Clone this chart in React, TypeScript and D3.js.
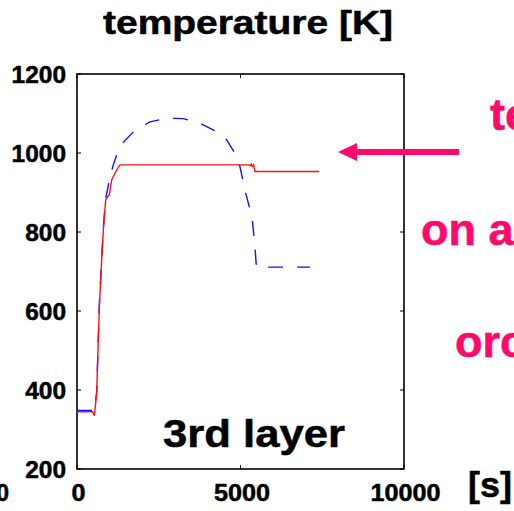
import * as d3 from 'd3';

// time [s] vs temperature [K]
const redTime = [0, 480, 530, 602, 683, 755, 805, 877, 940, 988, 1060, 1213, 1315, 5250, 5300, 5330, 5360, 5400, 5443, 7410];
const redTemp = [345, 345, 335, 392, 611, 729, 805, 881, 890, 894, 932, 957, 970, 970, 968, 972, 966, 970, 953, 953];

const blueTime = [0, 480, 530, 602, 683, 755, 805, 877, 988, 1092, 1213, 1315, 1437, 1774, 2232, 2742, 3251, 3761, 4271, 4577, 4832, 4985, 5138, 5250, 5352, 5443, 5474, 5490, 7130];
const blueTemp = [348, 348, 345, 395, 615, 735, 810, 885, 930, 965, 995, 1008, 1029, 1058, 1079, 1088, 1087, 1075, 1054, 1033, 999, 965, 905, 870, 839, 763, 725, 711, 711];

const xTicks = [0, 5000, 10000];
const yTicks = [200, 400, 600, 800, 1000, 1200];

const pink = '#ff0a6c';
const font = 'Liberation Sans, Arial, sans-serif';

const App = () => {
    const width = 514, height = 511;
    const margin = {top: 74, left: 77, right: 110, bottom: 42};

    const x = d3.scaleLinear().domain([0, 10000]).range([margin.left, width - margin.right]);
    const y = d3.scaleLinear().domain([200, 1200]).range([height - margin.bottom, margin.top]);

    const line = d3.line<[number, number]>()
        .x(d => x(d[0]))
        .y(d => y(d[1]));

    const redPts = redTime.map((t, i) => [t, redTemp[i]] as [number, number]);
    const bluePts = blueTime.map((t, i) => [t, blueTemp[i]] as [number, number]);

    const x0 = x.range()[0], x1 = x.range()[1];
    const y0 = y.range()[0], y1 = y.range()[1];
    const arrowY = y(1000) - 1;

    // heavier look, like the scaled-up original
    const heavy = {fontWeight: 'bold' as const, stroke: '#000', strokeWidth: 0.5};

    return (
        <div style={{position: 'fixed', left: 0, top: 0}}>
            <svg width={width} height={height} style={{display: 'block', background: '#fff'}} fontFamily={font}>
                <text x={248} y={34} fontSize={33} {...heavy} textAnchor="middle"
                      textLength={290} lengthAdjust="spacingAndGlyphs">temperature [K]</text>

                {/* plot frame */}
                <rect x={x0} y={y1} width={x1 - x0} height={y0 - y1} fill="none" stroke="#000" strokeWidth={1.6}/>
                {yTicks.map(t => (
                    <g key={'y' + t}>
                        <line x1={x0} x2={x0 + 4} y1={y(t)} y2={y(t)} stroke="#000" strokeWidth={1}/>
                        <line x1={x1} x2={x1 - 4} y1={y(t)} y2={y(t)} stroke="#000" strokeWidth={1}/>
                        <text x={66} y={y(t)} dy="0.37em" fontSize={23} {...heavy} textAnchor="end"
                              textLength={String(t).length * 13.6} lengthAdjust="spacingAndGlyphs">{t}</text>
                    </g>
                ))}
                {xTicks.map(t => (
                    <g key={'x' + t}>
                        <line x1={x(t)} x2={x(t)} y1={y0} y2={y0 - 4} stroke="#000" strokeWidth={1}/>
                        <line x1={x(t)} x2={x(t)} y1={y1} y2={y1 + 4} stroke="#000" strokeWidth={1}/>
                        <text x={x(t) + 1.5} y={501} fontSize={23} {...heavy} textAnchor="middle"
                              textLength={String(t).length * 14} lengthAdjust="spacingAndGlyphs">{t}</text>
                    </g>
                ))}
                {/* clipped label from the neighbouring panel */}
                <text x={9} y={501} fontSize={23} {...heavy} textAnchor="end">0</text>
                <text x={468} y={497} fontSize={35} {...heavy} textLength={44}
                      lengthAdjust="spacingAndGlyphs">[s]</text>

                <path d={line(bluePts) ?? ''} fill="none" stroke="#1010ff" strokeWidth={1.4} strokeDasharray="15,14"/>
                <path d={line(redPts) ?? ''} fill="none" stroke="#ff1010" strokeWidth={1.4}/>

                <text x={163} y={447} fontSize={38} {...heavy} textLength={182}
                      lengthAdjust="spacingAndGlyphs">3rd layer</text>

                {/* annotation */}
                <line x1={355} x2={459} y1={arrowY} y2={arrowY} stroke={pink} strokeWidth={6}/>
                <path d={`M338,${arrowY} L357,${arrowY - 9} L357,${arrowY + 9} Z`} fill={pink}/>
                <g fill={pink} stroke={pink} strokeWidth={0.6} fontWeight="bold" fontSize={45}>
                    <text x={490} y={130}>te</text>
                    <text x={421} y={245}>on a</text>
                    <text x={455} y={357}>orc</text>
                </g>
            </svg>
        </div>
    );
};

export default App;
